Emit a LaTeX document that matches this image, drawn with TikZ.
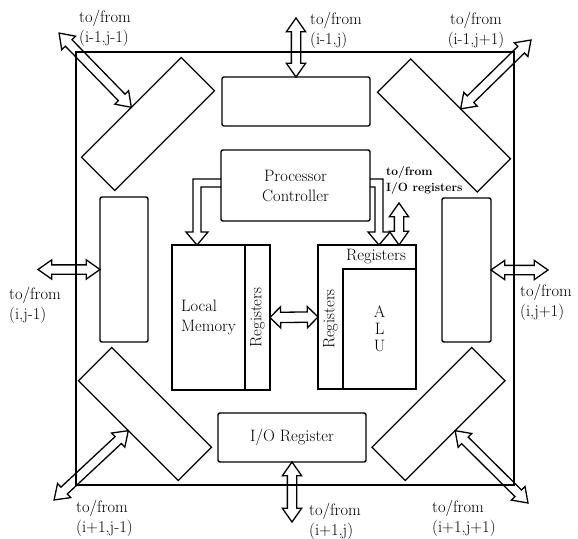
\documentclass[tikz,border=0pt]{standalone}
\usepackage{fontspec}
\usepackage{graphicx}
\usetikzlibrary{shapes.arrows,calc}
\tikzset{
  box/.style={draw, line width=1.4pt, inner sep=0pt, outer sep=0pt},
  rbox/.style={box, rounded corners=2pt},
  diagbox/.style={draw, line width=1.3pt, minimum width=141pt, minimum height=47pt, inner sep=0pt, outer sep=0pt},
  dblarr/.style={double arrow, draw, line width=1.3pt, inner xsep=0pt, inner ysep=4pt,
    double arrow head extend=5pt, double arrow tip angle=70, outer sep=0pt},
  lbl/.style={inner sep=0pt, align=left, anchor=north west},
  hollow/.style={draw, line width=1.3pt, line join=miter},
}
\newcommand\dblarrow[4][]{%
  \path let \p1=($(#4)-(#3)$), \n1={veclen(\x1,\y1)} in
    (#3) -- (#4) node[midway, sloped, dblarr, minimum height=\n1, #1] (#2) {};}
\begin{document}
\begin{tikzpicture}[x=1pt,y=-1pt, font=\fontsize{16.5}{20}\selectfont]
\useasboundingbox (0,0) rectangle (578,538);
% frame
\node[draw, line width=1.2pt, minimum width=438pt, minimum height=433pt, inner sep=0pt] (frame) at (295,268.5) {};
% outer boxes
\node[rbox, minimum width=148pt, minimum height=49pt] (top) at (296,101.5) {};
\node[rbox, minimum width=48pt, minimum height=145pt] (left) at (124,269.5) {};
\node[rbox, minimum width=49pt, minimum height=144pt] (right) at (466.5,270) {};
\node[rbox, minimum width=148pt, minimum height=49pt] (io) at (292,437.5) {I/O Register};
\node[diagbox, rotate=45] (tl) at (148,124) {};
\node[diagbox, rotate=-45] (tr) at (444,125.5) {};
\node[diagbox, rotate=-45] (bl) at (145,414) {};
\node[diagbox, rotate=45] (br) at (438.5,414) {};
% processor
\node[rbox, minimum width=149pt, minimum height=71pt, align=center] (pc) at (295.5,185.5) {Processor\\Controller};
\node[box, minimum width=73pt, minimum height=145pt, align=left] (mem) at (208.5,317.5) {Local\\Memory};
\node[box, minimum width=25pt, minimum height=145pt, anchor=west] (memreg) at (mem.east) {\rotatebox{90}{Registers}};
\node[box, minimum width=98pt, minimum height=144pt] (aluouter) at (367,317) {};
\node[box, minimum width=73pt, minimum height=120pt, anchor=south east, align=center,
  font=\fontsize{16.5}{17}\selectfont] (alu) at (aluouter.south east) {A\\L\\U};
\node[inner sep=0pt] (alureg) at (330.5,319) {\rotatebox{90}{Registers}};
\node[inner sep=0pt] (alutopreg) at (376,257) {Registers};
% bent arrows from controller
\coordinate (lmtip) at ($(mem.north west)+(25,0)$);
\coordinate (rtip) at ($(aluouter.north west)+(61,0)$);
\draw[hollow] (pc.west |- 0,179) -- (193,179) -- (193,232) -- (186,232) -- (lmtip)
  -- (208,232) -- (201,232) -- (201,187) -- (pc.west |- 0,187);
\draw[hollow] (pc.east |- 0,179) -- (383,179) -- (383,232) -- (390,232) -- (rtip)
  -- (368,232) -- (375,232) -- (375,187) -- (pc.east |- 0,187);
% double arrows
\coordinate (ntop) at ([yshift=59pt]top.north);
\coordinate (ntl) at (59,33);
\coordinate (ntr) at (531,40);
\coordinate (nl) at ([xshift=-62pt]left.west);
\coordinate (nr) at ([xshift=57pt]right.east);
\coordinate (nbl) at (54,500);
\coordinate (nbot) at ([yshift=-60pt]io.south);
\coordinate (nbr) at (528,503);
\coordinate (ioregtop) at (399,203);
\coordinate (ioregbot) at (ioregtop |- aluouter.north);
\dblarrow{a1}{top.north}{ntop}
\dblarrow{a2}{tl.north}{ntl}
\dblarrow{a3}{tr.north}{ntr}
\dblarrow{a4}{left.west}{nl}
\dblarrow{a5}{right.east}{nr}
\dblarrow{a6}{bl.south}{nbl}
\dblarrow{a7}{io.south}{nbot}
\dblarrow{a8}{br.south}{nbr}
\dblarrow{a9}{ioregbot}{ioregtop}
\dblarrow[inner ysep=4.5pt, double arrow head extend=5.5pt, double arrow tip angle=90]{a10}{memreg.east}{aluouter.west}
% labels
\node[lbl] (ltl) at (79,10) {to/from\\(i-1,j-1)};
\node[lbl] (lt) at (310,12) {to/from\\(i-1,j)};
\node[lbl, align=center, anchor=north] (ltr) at (476,12) {to/from\\(i-1,j+1)};
\node[lbl] (ll) at (9,287) {to/from\\(i,j-1)};
\node[lbl] (lr) at (520,284) {to/from\\(i,j+1)};
\node[lbl] (lbleft) at (76,500) {to/from\\(i+1,j-1)};
\node[lbl] (lb) at (309,503) {to/from\\(i+1,j)};
\node[lbl] (lbr) at (432,500) {to/from\\(i+1,j+1)};
\node[lbl, font=\fontsize{12}{16}\selectfont\bfseries] (lio) at (386,166) {to/from\\I/O registers};
\end{tikzpicture}
\end{document}
